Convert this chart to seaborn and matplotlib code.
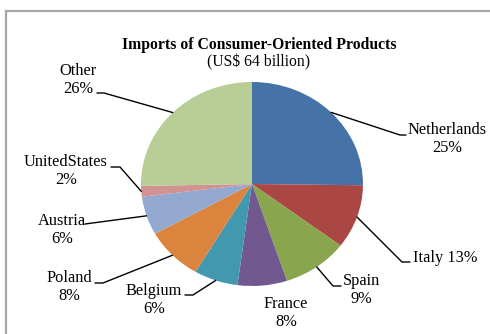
import matplotlib
matplotlib.use("Agg")
import matplotlib.pyplot as plt
import matplotlib.transforms as mtransforms
from matplotlib.lines import Line2D
import numpy as np
import seaborn as sns

# ---- data ----
countries = ["Netherlands", "Italy", "Spain", "France", "Belgium",
             "Poland", "Austria", "UnitedStates", "Other"]
shares = [25.2, 10.1, 9.6, 7.2, 6.4, 8.4, 6.1, 1.7, 25.3]
pct_labels = ["25%", "13%", "9%", "8%", "6%", "8%", "6%", "2%", "26%"]
colors = ["#4572A7", "#AA4643", "#89A54E", "#71588F", "#4198AF",
          "#DB843D", "#93A9CF", "#D19392", "#B9CD96"]
title = "Imports of Consumer-Oriented Products"
subtitle = "(US$ 64 billion)"

sns.set_theme(style="white")
plt.rcParams["font.family"] = ["Liberation Serif", "DejaVu Serif"]

W, H = 490, 334
fig = plt.figure(figsize=(W / 100, H / 100), dpi=100)
fig.patch.set_facecolor("white")

# transform: figure pixels with top-left origin
tpx = mtransforms.Affine2D().scale(1 / 100, -1 / 100).translate(0, H / 100) + fig.dpi_scale_trans

# chart border (cut at right/bottom edge like the reference)
fig.add_artist(Line2D([5.5, 5.5, W + 5], [H + 5, 10.5, 10.5], transform=tpx,
                      color="#a6a6a6", lw=1.6, solid_joinstyle="miter"))

# pie axes, slightly elliptical as in the reference
cx, cy, rx, ry = 252, 184, 111, 102
ax = fig.add_axes([(cx - rx) / W, 1 - (cy + ry) / H, 2 * rx / W, 2 * ry / H])
wedges, _ = ax.pie(shares, colors=colors, startangle=90, counterclock=False,
                   radius=1, wedgeprops=dict(linewidth=0))
ax.set_xlim(-1, 1)
ax.set_ylim(-1, 1)
ax.set_aspect("auto")
ax.axis("off")

fig.text(259, 45, title, transform=tpx, ha="center", va="center",
         fontsize=11.3, fontweight="bold", color="black")
fig.text(259, 62, subtitle, transform=tpx, ha="center", va="center",
         fontsize=11.3, color="black")

# label layout (pixel positions, top-left origin) : text pos, align, leader path
layout = {
    "Netherlands": dict(pos=(447, 139), ha="center", path=[(400, 135), (406, 135)]),
    "Italy": dict(pos=(413, 258), ha="left", path=[(402, 262), (410, 262)], oneline=True),
    "Spain": dict(pos=(361, 290), ha="center", path=[(333, 286), (341, 286)]),
    "France": dict(pos=(286, 313), ha="center", path=None),
    "Belgium": dict(pos=(154, 300), ha="center", path=[(193, 295), (185, 295)]),
    "Poland": dict(pos=(69, 287), ha="center", path=[(103, 283), (95, 283)]),
    "Austria": dict(pos=(62, 230), ha="center", path=[(85, 224)]),
    "UnitedStates": dict(pos=(66, 171), ha="center", path=[(120, 167), (111, 167)]),
    "Other": dict(pos=(78, 80), ha="center", path=[(104, 93), (97, 93)]),
}

fig.canvas.draw()
for w, name, pl in zip(wedges, countries, pct_labels):
    lay = layout[name]
    if lay.get("oneline"):
        txt = f"{name} {pl}"
    else:
        txt = f"{name}\n{pl}"
    fig.text(lay["pos"][0], lay["pos"][1], txt, transform=tpx, ha=lay["ha"],
             va="center", multialignment="center", fontsize=11.8, color="black",
             linespacing=1.1)
    if lay["path"]:
        mid = np.deg2rad((w.theta1 + w.theta2) / 2)
        ex, ey = ax.transData.transform((np.cos(mid), np.sin(mid)))
        pts = [(ex, H - ey)] + lay["path"]
        xs = [p[0] for p in pts]
        ys = [p[1] for p in pts]
        fig.add_artist(Line2D(xs, ys, transform=tpx, color="black", lw=1.0))

fig.savefig("out.png", dpi=100, facecolor="white")
